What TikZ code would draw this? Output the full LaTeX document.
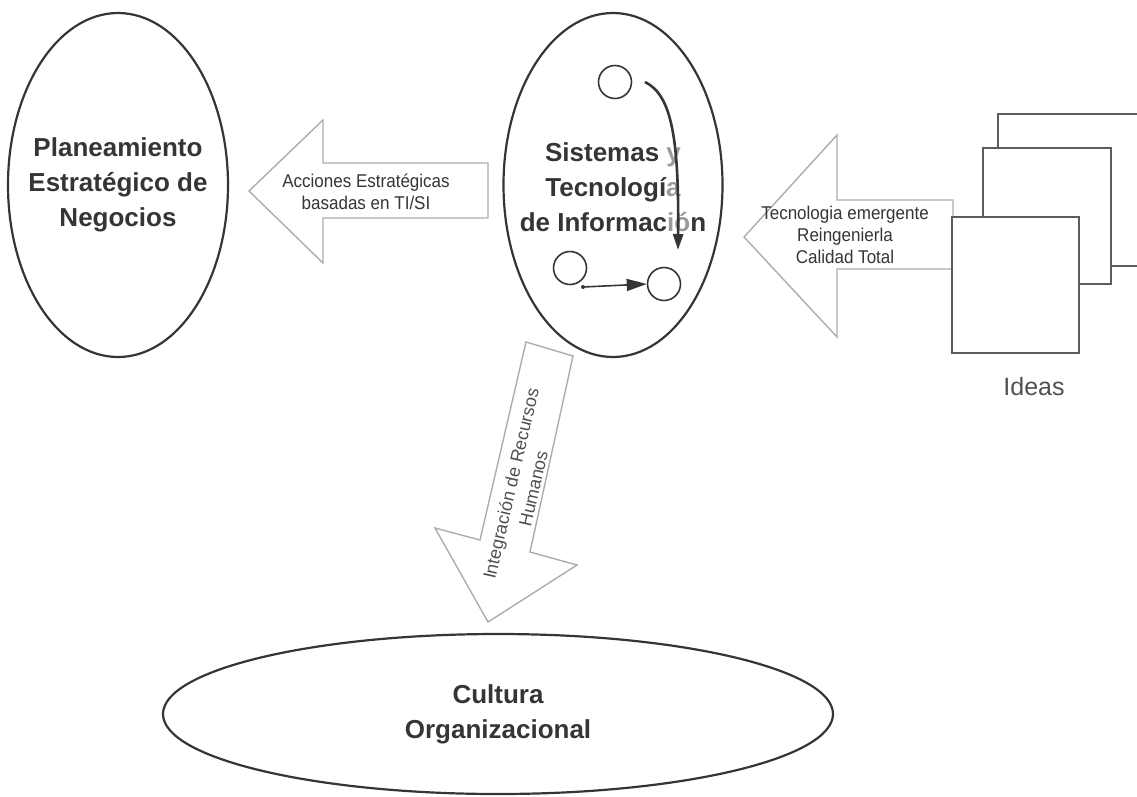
\documentclass[tikz,border=0pt]{standalone}
\usepackage{fontspec}
\setmainfont{Liberation Sans}
\newfontfamily\narrowfont{Liberation Sans}[FakeStretch=0.92]
\usetikzlibrary{shapes.geometric,arrows.meta}
\definecolor{inkdark}{HTML}{353535}
\definecolor{outlinegray}{HTML}{ADADAD}
\definecolor{boxgray}{HTML}{5C5C5C}
\definecolor{labelgray}{HTML}{505050}
\begin{document}
\begin{tikzpicture}[x=1pt,y=-1pt,
  bigoval/.style={ellipse, draw=inkdark, line width=2.2pt, inner sep=0pt},
  ovaltext/.style={text=inkdark, font=\fontsize{26}{35}\selectfont\bfseries, align=center},
  flow/.style={draw=outlinegray, line width=1.4pt, fill=white, line join=miter},
  flowtext/.style={text=inkdark, font=\narrowfont\fontsize{18.5}{22}\selectfont, align=center},
  sheet/.style={draw=boxgray, line width=2pt, fill=white},
  dot/.style={circle, draw=inkdark, line width=1.6pt, minimum size=33pt, inner sep=0pt},
]
\useasboundingbox (0,0) rectangle (1137,796);
\clip (0,0) rectangle (1137,796);

% the three ovals and their titles
\node[bigoval, minimum width=220pt, minimum height=344pt] (plan) at (118,185) {};
\node[ovaltext] (plantxt) at (plan.center) {Planeamiento\\Estratégico de\\Negocios};
\node[bigoval, minimum width=219pt, minimum height=344pt] (sti) at (613,185) {};
\node[ovaltext] (stitxt) at ([yshift=-2pt]sti.center) {Sistemas y\\Tecnología\\de Información};
\node[bigoval, minimum width=670pt, minimum height=160pt] (cult) at (498,714) {};
\node[ovaltext] (culttxt) at (cult.center) {Cultura\\Organizacional};

% block arrow towards the planning oval
\draw[flow] (488,163) -- (323,163) -- (323,120) -- (249,191) -- (323,263)
  -- (323,218) -- (488,218) -- cycle;
\node[flowtext] (acc) at (366,192) {Acciones Estratégicas\\basadas en TI/SI};

% block arrow from the ideas
\draw[flow] (953,200) -- (837,200) -- (837,135) -- (744,237) -- (837,337)
  -- (837,269) -- (953,269) -- cycle;
\node[flowtext] (tec) at (845,235) {Tecnologia emergente\\Reingenierla\\Calidad Total};

% stacked idea sheets
\draw[sheet] (998,114) rectangle (1170,266);
\draw[sheet] (983,148) rectangle (1111,284);
\draw[sheet] (952,217) rectangle (1079,353);
\node[text=labelgray, font=\fontsize{25}{30}\selectfont] (ideas) at (1034,387) {Ideas};

% block arrow down to the culture oval
\draw[flow] (526,342) -- (573,356) -- (530,552) -- (577,565) -- (488,622)
  -- (435,528) -- (480,540) -- cycle;
\node[text=labelgray, font=\fontsize{18}{23}\selectfont, align=center, rotate=77] (rrhh)
  at (522,486) {Integración de Recursos\\Humanos};

% small process sketch inside the systems oval
\node[dot] (c1) at (615,82) {};
\node[dot] (c2) at (570,268) {};
\node[dot] (c3) at (664,284) {};
\coordinate (cs) at (645,82);
\coordinate (ce) at (678,250);
\coordinate (ls) at (583,287);
\draw[white, opacity=0.5, line width=22pt] (cs) .. controls (672,95) and (679,140) .. (ce);
\draw[inkdark, line width=2.6pt, -{Triangle[length=16pt,width=10pt]}]
  (cs) .. controls (672,95) and (679,140) .. (ce);
\fill[inkdark] (ls) circle (2pt);
\draw[inkdark, line width=1.6pt, -{Triangle[length=20pt,width=12pt]}] (ls) -- (c3.west);
\end{tikzpicture}
\end{document}
